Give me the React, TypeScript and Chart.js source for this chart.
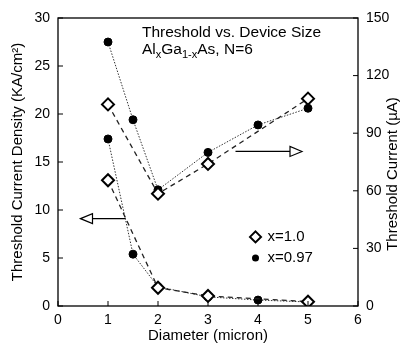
import React, { useEffect, useRef } from "react";
import { Chart, registerables } from "chart.js";

Chart.register(...registerables);

// ---- data ----
const diametersX10 = [1, 2, 3, 5];
const densityX10 = [13.1, 1.9, 1.05, 0.45];
const currentX10 = [105, 58.5, 74, 108];

const diametersX097 = [1, 1.5, 2, 3, 4, 5];
const densityX097 = [17.4, 5.4, 2.0, 0.95, 0.62, 0.42];
const currentX097 = [137.5, 97, 60.5, 80, 94.3, 103];

const xTicks = [0, 1, 2, 3, 4, 5, 6];
const leftTicks = [0, 5, 10, 15, 20, 25, 30];
const rightTicks = [0, 30, 60, 90, 120, 150];

const legendLabels = ["x=1.0", "x=0.97"];
const rightTitle = "Threshold Current (µA)";

const FONT = "'Liberation Sans', Arial, Helvetica, sans-serif";

const pts = (xs: number[], ys: number[]) => xs.map((x, i) => ({ x, y: ys[i] }));

const diamondStyle = {
  pointStyle: "rectRot" as const,
  pointRadius: 6,
  pointBackgroundColor: "#ffffff",
  pointBorderColor: "#000000",
  pointBorderWidth: 2,
  borderColor: "#222222",
  borderWidth: 1.3,
  borderDash: [5, 4],
  showLine: true,
  tension: 0,
};
const dotStyle = {
  pointStyle: "circle" as const,
  pointRadius: 4,
  pointBackgroundColor: "#000000",
  pointBorderColor: "#000000",
  pointBorderWidth: 1,
  borderColor: "#333333",
  borderWidth: 1,
  borderDash: [1.5, 1.5],
  showLine: true,
  tension: 0,
};

function drawDiamond(ctx: CanvasRenderingContext2D, x: number, y: number, r: number) {
  ctx.beginPath();
  ctx.moveTo(x, y - r);
  ctx.lineTo(x + r, y);
  ctx.lineTo(x, y + r);
  ctx.lineTo(x - r, y);
  ctx.closePath();
  ctx.fillStyle = "#fff";
  ctx.fill();
  ctx.lineWidth = 2;
  ctx.strokeStyle = "#000";
  ctx.stroke();
}

function drawArrow(ctx: CanvasRenderingContext2D, x0: number, x1: number, y: number) {
  const dir = x1 > x0 ? 1 : -1;
  const head = 12;
  ctx.save();
  ctx.strokeStyle = "#000";
  ctx.lineWidth = 1.2;
  ctx.setLineDash([]);
  ctx.beginPath();
  ctx.moveTo(x0, y);
  ctx.lineTo(x1 - dir * head, y);
  ctx.stroke();
  ctx.beginPath();
  ctx.moveTo(x1, y);
  ctx.lineTo(x1 - dir * head, y - 5);
  ctx.lineTo(x1 - dir * head, y + 5);
  ctx.closePath();
  ctx.fillStyle = "#fff";
  ctx.fill();
  ctx.stroke();
  ctx.restore();
}

const framePlugin = {
  id: "frameAndNotes",
  afterDraw(chart: any) {
    const { ctx, chartArea, scales } = chart;
    const { left, right, top, bottom } = chartArea;
    const sx = scales.x, sy = scales.y, sy1 = scales.y1;
    ctx.save();
    // frame
    ctx.strokeStyle = "#000";
    ctx.lineWidth = 1.3;
    ctx.strokeRect(left, top, right - left, bottom - top);
    // inward ticks
    ctx.lineWidth = 1;
    ctx.beginPath();
    leftTicks.forEach((v) => {
      const y = sy.getPixelForValue(v);
      ctx.moveTo(left, y);
      ctx.lineTo(left + 5, y);
    });
    rightTicks.forEach((v) => {
      const y = sy1.getPixelForValue(v);
      ctx.moveTo(right, y);
      ctx.lineTo(right - 5, y);
    });
    xTicks.forEach((v) => {
      const x = sx.getPixelForValue(v);
      ctx.moveTo(x, bottom);
      ctx.lineTo(x, bottom - 5);
    });
    ctx.stroke();

    // right axis title (reads bottom to top)
    ctx.save();
    ctx.translate(393, (top + bottom) / 2 + 12);
    ctx.rotate(-Math.PI / 2);
    ctx.font = `15px ${FONT}`;
    ctx.fillStyle = "#000";
    ctx.textAlign = "center";
    ctx.textBaseline = "middle";
    ctx.fillText(rightTitle, 0, 0);
    ctx.restore();

    // title text
    ctx.fillStyle = "#000";
    ctx.textBaseline = "alphabetic";
    ctx.textAlign = "left";
    ctx.font = `15.5px ${FONT}`;
    const tx = sx.getPixelForValue(1.68);
    ctx.fillText("Threshold vs. Device Size", tx, top + 19);
    let cx = tx;
    const y2 = top + 36;
    const parts: [string, boolean][] = [
      ["Al", false],
      ["x", true],
      ["Ga", false],
      ["1-x", true],
      ["As, N=6", false],
    ];
    parts.forEach(([t, sub]) => {
      ctx.font = sub ? `11px ${FONT}` : `15.5px ${FONT}`;
      ctx.fillText(t, cx, sub ? y2 + 4 : y2);
      cx += ctx.measureText(t).width;
    });

    // arrows
    drawArrow(ctx, sx.getPixelForValue(1.35), sx.getPixelForValue(0.45), sy.getPixelForValue(9.1));
    drawArrow(ctx, sx.getPixelForValue(3.55), sx.getPixelForValue(4.88), sy1.getPixelForValue(80.5));

    // legend
    const lx = sx.getPixelForValue(3.95);
    const ly1 = sy.getPixelForValue(7.2);
    const ly2 = sy.getPixelForValue(5.0);
    drawDiamond(ctx, lx, ly1, 5.5);
    ctx.beginPath();
    ctx.arc(lx, ly2, 3.5, 0, Math.PI * 2);
    ctx.fillStyle = "#000";
    ctx.fill();
    ctx.font = `15px ${FONT}`;
    ctx.textBaseline = "middle";
    ctx.fillText(legendLabels[0], lx + 12, ly1);
    ctx.fillText(legendLabels[1], lx + 12, ly2);
    ctx.restore();
  },
};

export default function App() {
  const ref = useRef<HTMLCanvasElement | null>(null);
  useEffect(() => {
    document.body.style.margin = "0";
    if (!ref.current) return;
    const chart = new Chart(ref.current, {
      type: "scatter",
      data: {
        datasets: [
          { label: "Jth x=1.0", data: pts(diametersX10, densityX10), yAxisID: "y", ...diamondStyle },
          { label: "Ith x=1.0", data: pts(diametersX10, currentX10), yAxisID: "y1", ...diamondStyle },
          { label: "Jth x=0.97", data: pts(diametersX097, densityX097), yAxisID: "y", ...dotStyle },
          { label: "Ith x=0.97", data: pts(diametersX097, currentX097), yAxisID: "y1", ...dotStyle },
        ],
      },
      options: {
        animation: false,
        responsive: true,
        maintainAspectRatio: false,
        layout: { padding: { top: 18, right: 0, left: 0, bottom: 0 } },
        plugins: { legend: { display: false }, tooltip: { enabled: false } },
        scales: {
          x: {
            type: "linear",
            min: 0,
            max: 6,
            position: "bottom",
            afterBuildTicks: (s: any) => { s.ticks = xTicks.map((v) => ({ value: v })); },
            afterFit: (s: any) => { s.height = 44; },
            ticks: { color: "#000", font: { family: FONT, size: 14 }, padding: 6, maxRotation: 0 },
            grid: { display: false, drawTicks: false },
            border: { display: false },
            title: { display: true, text: "Diameter (micron)", color: "#000", font: { family: FONT, size: 15 }, padding: { top: 2, bottom: 5 } },
          },
          y: {
            type: "linear",
            min: 0,
            max: 30,
            position: "left",
            afterBuildTicks: (s: any) => { s.ticks = leftTicks.map((v) => ({ value: v })); },
            afterFit: (s: any) => { s.width = 58; },
            ticks: { color: "#000", font: { family: FONT, size: 14 }, padding: 8 },
            grid: { display: false, drawTicks: false },
            border: { display: false },
            title: { display: true, text: "Threshold Current Density (KA/cm²)", color: "#000", font: { family: FONT, size: 15 }, padding: { top: 9, bottom: 0 } },
          },
          y1: {
            type: "linear",
            min: 0,
            max: 150,
            position: "right",
            afterBuildTicks: (s: any) => { s.ticks = rightTicks.map((v) => ({ value: v })); },
            afterFit: (s: any) => { s.width = 51; },
            ticks: { color: "#000", font: { family: FONT, size: 14 }, padding: 8 },
            grid: { display: false, drawTicks: false },
            border: { display: false },
            title: { display: false },
          },
        },
      },
      plugins: [framePlugin],
    });
    return () => chart.destroy();
  }, []);
  return (
    <div style={{ width: 409, height: 350, position: "relative", background: "#fff" }}>
      <canvas ref={ref} />
    </div>
  );
}
